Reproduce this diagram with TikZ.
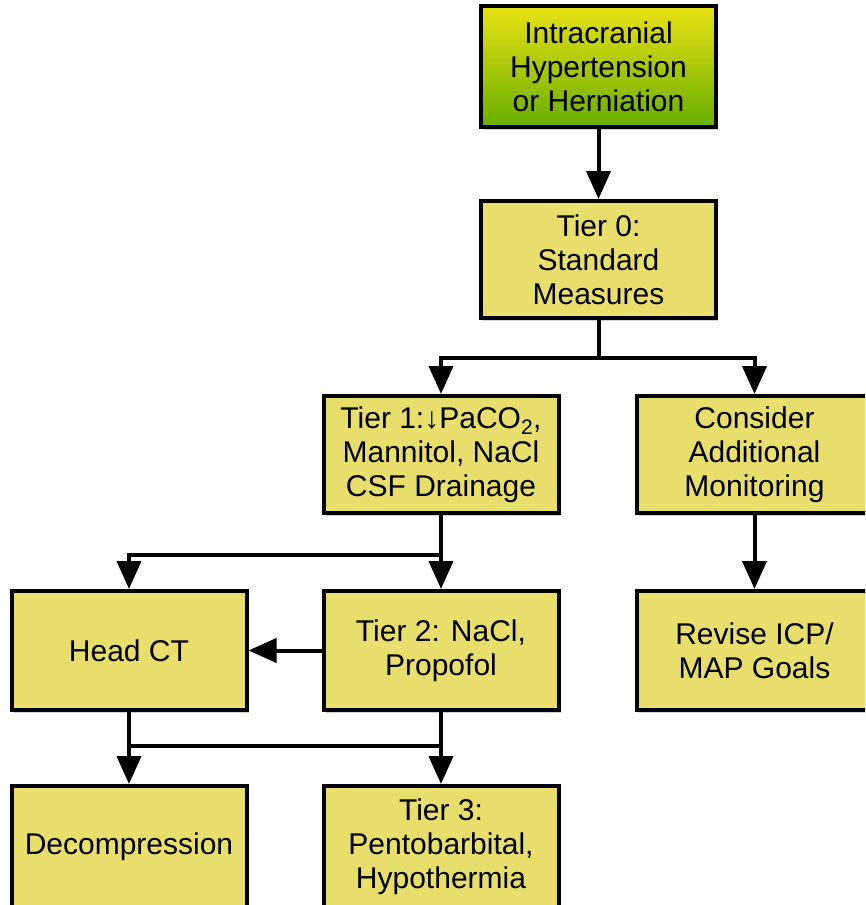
\documentclass[tikz,border=0pt]{standalone}
\usepackage{fontspec}
\setmainfont{Liberation Sans}
\usetikzlibrary{arrows.meta,shadows}
\definecolor{boxfill}{RGB}{232,222,108}
\begin{document}
\begin{tikzpicture}[x=1pt,y=-1pt,
 box/.style={draw=black, line width=4pt, fill=boxfill, minimum width=235pt, minimum height=117pt, inner sep=0pt, align=center, font=\fontsize{30}{34}\selectfont, drop shadow={shadow xshift=2pt, shadow yshift=-3pt, opacity=0.35}},
 conn/.style={line width=4pt, -{Triangle[length=28pt,width=24pt]}},
 plain/.style={line width=4pt}]
\useasboundingbox (0,0) rectangle (865,905);
\clip (0,0) rectangle (865,905);
\fill[white] (0,0) rectangle (865,905);
\node[box, minimum height=121pt, top color={rgb,255:red,234;green,226;blue,20}, bottom color={rgb,255:red,104;green,174;blue,0}] (htn) at (598.5,66.5) {Intracranial\\Hypertension\\or Herniation};
\node[box] (t0) at (598.5,259.5) {Tier 0:\\Standard\\Measures};
\node[box] (t1) at (441,454.5) {Tier 1:↓PaCO\textsubscript{2},\\Mannitol, NaCl\\CSF Drainage};
\node[box] (cam) at (754.5,454.5) {Consider\\Additional\\Monitoring};
\node[box, minimum height=119pt] (hct) at (129,650.5) {Head CT};
\node[box, minimum height=119pt] (t2) at (441,650.5) {Tier 2: NaCl,\\Propofol};
\node[box, minimum height=119pt] (rev) at (754.5,650.5) {Revise ICP/\\MAP Goals};
\node[box, minimum height=122pt] (dec) at (129,847) {Decompression};
\node[box, minimum height=122pt] (t3) at (441,847) {Tier 3:\\Pentobarbital,\\Hypothermia};
\coordinate (j0) at (598.5,358);
\coordinate (j1) at (441,555);
\coordinate (j2) at (129,746);
\coordinate (j3) at (441,746);
\draw[conn] (htn.south) -- (t0.north);
\draw[plain] (t0.south) -- (j0);
\draw[conn] (j0) -| (t1.north);
\draw[conn] (j0) -| (cam.north);
\draw[plain] (t1.south) -- (j1);
\draw[conn] (j1) -| (hct.north);
\draw[conn] (j1) -- (t2.north);
\draw[conn] (t2.west) -- (hct.east);
\draw[conn] (cam.south) -- (rev.north);
\draw[conn] (hct.south) -- (dec.north);
\draw[conn] (t2.south) -- (t3.north);
\draw[plain] (j2) -- (j3);
\end{tikzpicture}
\end{document}
